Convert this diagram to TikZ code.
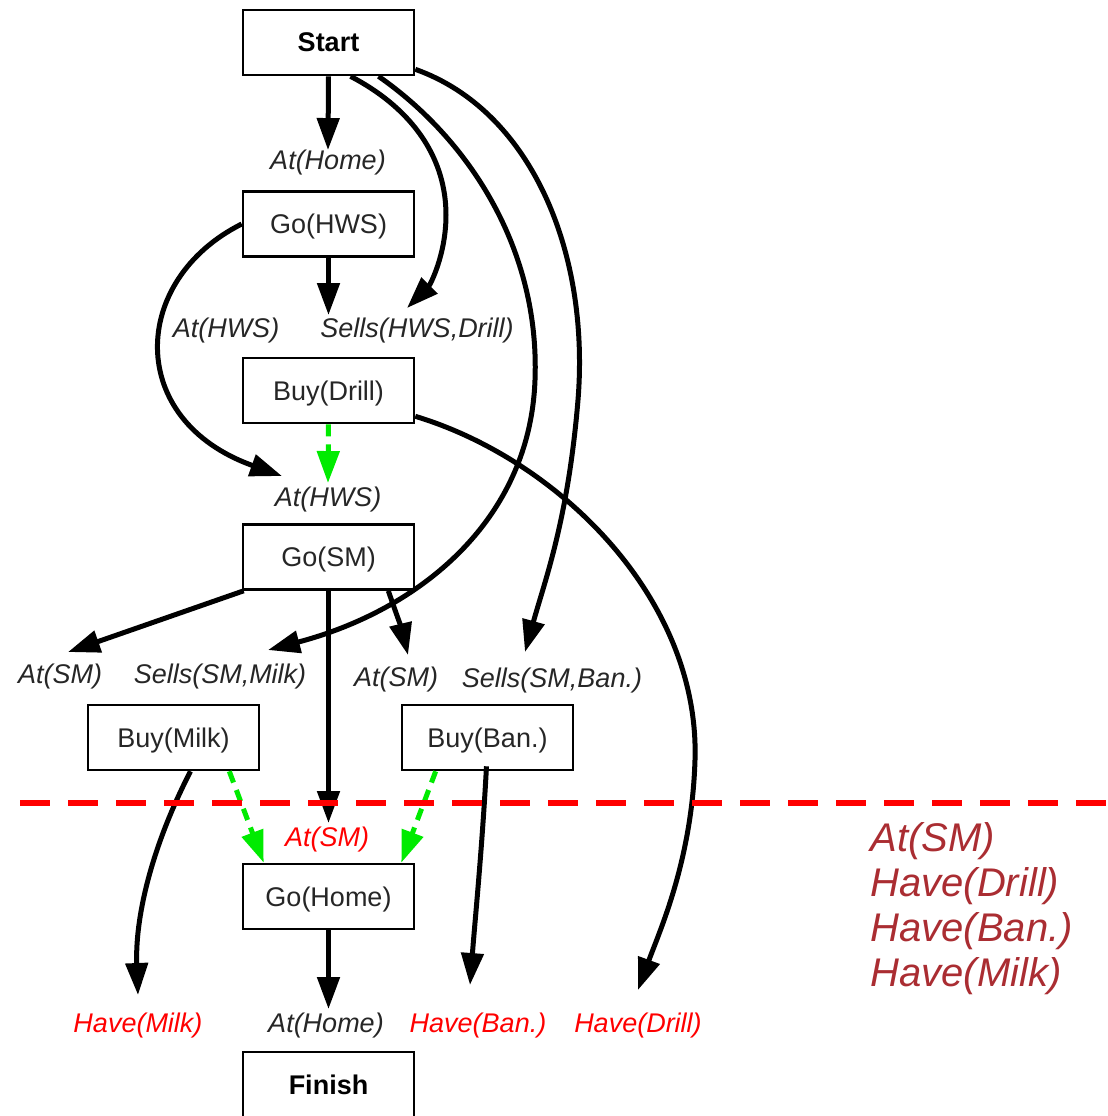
\documentclass[tikz,border=0pt]{standalone}
\usepackage{fontspec}
\setmainfont{Liberation Sans}
\usetikzlibrary{arrows.meta,calc}
\definecolor{goalred}{RGB}{170,45,50}
\definecolor{flaw}{RGB}{255,0,0}
\definecolor{threat}{RGB}{0,235,0}

\begin{document}
\begin{tikzpicture}[x=0.5pt,y=-0.5pt,
  action/.style={draw, line width=1.3pt, fill=white, minimum width=85.5pt,
    minimum height=32.5pt, inner sep=0pt, text depth=0pt, text=black!85,
    font=\fontsize{13.5}{16}\selectfont},
  terminal/.style={action, text=black, font=\fontsize{13.5}{16}\selectfont\bfseries},
  cond/.style={inner sep=0pt, text=black!85, font=\fontsize{13.5}{16}\selectfont\itshape},
  open/.style={cond, text=flaw},
  goal/.style={inner sep=0pt, align=left, text=goalred,
    font=\fontsize{20}{22.5}\selectfont\itshape},
  link/.style={line width=2.5pt, -{Triangle[length=16pt,width=11pt]}},
  order/.style={link, color=threat, dash pattern=on 6pt off 4pt},
  cut/.style={draw=flaw, line width=3pt, dash pattern=on 15pt off 9pt}
]
\useasboundingbox (0,0) rectangle (1108,1116);

% steps of the plan
\node[terminal] (start)    at (328.5,42.5)  {Start};
\node[action]   (gohws)    at (328.5,224)   {Go(HWS)};
\node[action]   (buydrill) at (328.5,390.5) {Buy(Drill)};
\node[action]   (gosm)     at (328.5,557)   {Go(SM)};
\node[action]   (buymilk)  at (173.5,737.5) {Buy(Milk)};
\node[action]   (buyban)   at (487.5,737.5) {Buy(Ban.)};
\node[action]   (gohome)   at (328.5,896.5) {Go(Home)};
\node[terminal] (finish)   at (328.5,1084.5) {Finish};

% preconditions
\node[cond] (athome)    at (328,163)  {At(Home)};
\node[cond] (athws1)    at (226,331)  {At(HWS)};
\node[cond] (sellshws)  at (417,331)  {Sells(HWS,Drill)};
\node[cond] (athws2)    at (328,499)  {At(HWS)};
\node[cond] (atsm1)     at (60,677)   {At(SM)};
\node[cond] (sellsmilk) at (220,677)  {Sells(SM,Milk)};
\node[cond] (atsm2)     at (396,679)  {At(SM)};
\node[cond] (sellsban)  at (552,680)  {Sells(SM,Ban.)};
\node[open] (atsm3)     at (327,839)  {At(SM)};
\node[open] (havemilk)  at (138,1025) {Have(Milk)};
\node[cond] (athome2)   at (326,1025) {At(Home)};
\node[open] (haveban)   at (478,1025) {Have(Ban.)};
\node[open] (havedrill) at (638,1025) {Have(Drill)};

% state at the cut
\node[goal, anchor=north west] (goals) at (870,822)
  {At(SM)\\Have(Drill)\\Have(Ban.)\\Have(Milk)};

% causal links
\draw[link] (start.south) -- (athome.north);
\draw[link] ($(start.south)+(22,0)$) .. controls (415,110) and (446,160) .. (446,215)
  .. controls (446,255) and (430,285) .. ($(sellshws.north)+(-10,-10)$);
\draw[link] ($(start.south)+(50,0)$) .. controls (470,140) and (540,250) .. (535,380)
  .. controls (530,520) and (420,610) .. ($(sellsmilk.north)+(48,-14)$);
\draw[link] ($(start.south east)+(0,-7)$) .. controls (530,110) and (590,250) .. (578,400)
  .. controls (568,520) and (545,580) .. ($(sellsban.north)+(-27,-15)$);
\draw[link] (gohws.south) -- ($(gohws.south |- sellshws.north)+(0,-3)$);
\draw[link] (gohws.west) .. controls (130,280) and (125,420) .. ($(athws2.north)+(-46,-10)$);
\draw[link] ($(buydrill.south east)+(0,-8)$) .. controls (560,460) and (700,600) .. (695,760)
  .. controls (692,860) and (660,930) .. ($(havedrill.north)+(0,-22)$);
\draw[link] ($(gosm.south west)+(2,0)$) -- ($(atsm1.north)+(8,-12)$);
\draw[link] (gosm.south) -- ($(gosm.south |- atsm3.north)+(0,-3)$);
\draw[link] ($(gosm.south east)+(-27,0)$) .. controls (395,610) and (402,630) .. ($(atsm2.north)+(12,-11)$);
\draw[link] ($(buymilk.south)+(17,0)$) .. controls (150,850) and (135,920) .. ($(havemilk.north)+(0,-17)$);
\draw[link] ($(buyban.south)+(-1,-5)$) .. controls (482,850) and (475,920) .. ($(haveban.north)+(-8,-27)$);
\draw[link] (gohome.south) -- ($(gohome.south |- athome2.north)+(0,-3)$);

% ordering constraints
\draw[order] (buydrill.south) -- ($(athws2.north)+(0,-3)$);
\draw[order] ($(buymilk.south east)+(-31,0)$) -- ($(gohome.north west)+(22,0)$);
\draw[order] ($(buyban.south west)+(35,0)$) -- ($(gohome.north east)+(-14,0)$);

% cut through the plan
\coordinate (cutL) at (20,803);
\coordinate (cutR) at (1108,803);
\draw[cut] (cutL) -- (cutR);
\end{tikzpicture}
\end{document}
